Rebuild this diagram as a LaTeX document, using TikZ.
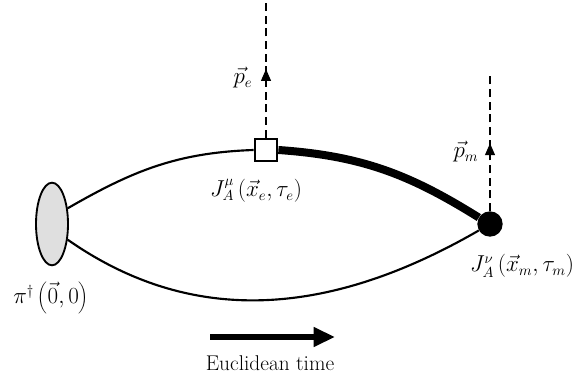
\documentclass[tikz,border=0pt]{standalone}
\usetikzlibrary{arrows.meta, positioning, shapes.geometric, decorations.markings}

\begin{document}
\begin{tikzpicture}[
    x=0.75pt, y=0.75pt,
    every node/.style={font=\fontsize{16}{19}\selectfont},
    prop/.style={line width=1.6pt}, % quark lines
    heavy/.style={line width=6pt},
    mom/.style={line width=2pt, dash pattern=on 6pt off 3.5pt,
        postaction={decorate, decoration={markings,
            mark=at position 0.5 with {\arrow[solid]{Triangle[length=9pt, width=7pt]}}}}},
    source/.style={ellipse, draw, line width=1.4pt, fill=gray!25, inner sep=0pt,
        minimum width=24pt, minimum height=62pt},
    curE/.style={rectangle, draw, line width=1.6pt, fill=white, inner sep=0pt, minimum size=17pt},
    curM/.style={circle, fill=black, inner sep=0pt, minimum size=19pt},
    label/.style={inner sep=1pt}
]
\useasboundingbox (0,0) rectangle (573,381);

\node[source] (pion) at (52,157) {};
\node[curE] (je) at (266,231) {};
\node[curM] (jm) at (490,157) {};
\coordinate (pe top) at (266,381);
\coordinate (pm top) at (490,306);

% propagators
\draw[prop] (pion.45) to[out=30, in=182] (je.west);
\draw[prop] (pion.-45) to[out=-35, in=210] (jm);
\draw[heavy] (je.east) to[out=-4, in=148] (jm.150);
\node[curE] at (je) {};

% momenta
\draw[mom] (je.north) -- (pe top);
\draw[mom] (jm.north) -- (pm top);

\node[label] (pe) at (243,303) {$\vec{p}_e$};
\node[label] (pm) at (466,229) {$\vec{p}_m$};
\node[label] (je lab) at (256,190) {$J_A^\mu\,(\vec{x}_e,\tau_e)$};
\node[label] (jm lab) at (522,115) {$J_A^\nu\,(\vec{x}_m,\tau_m)$};
\node[label] (pion lab) at (51,83) {$\pi^\dagger\left(\vec{0},0\right)$};

% time direction
\coordinate (t0) at (210,44);
\coordinate (t1) at (335,44);
\draw[line width=4pt, -{Triangle[length=16pt, width=14pt]}] (t0) -- (t1);
\node[label] (time) at (270,18) {Euclidean time};

\end{tikzpicture}
\end{document}
